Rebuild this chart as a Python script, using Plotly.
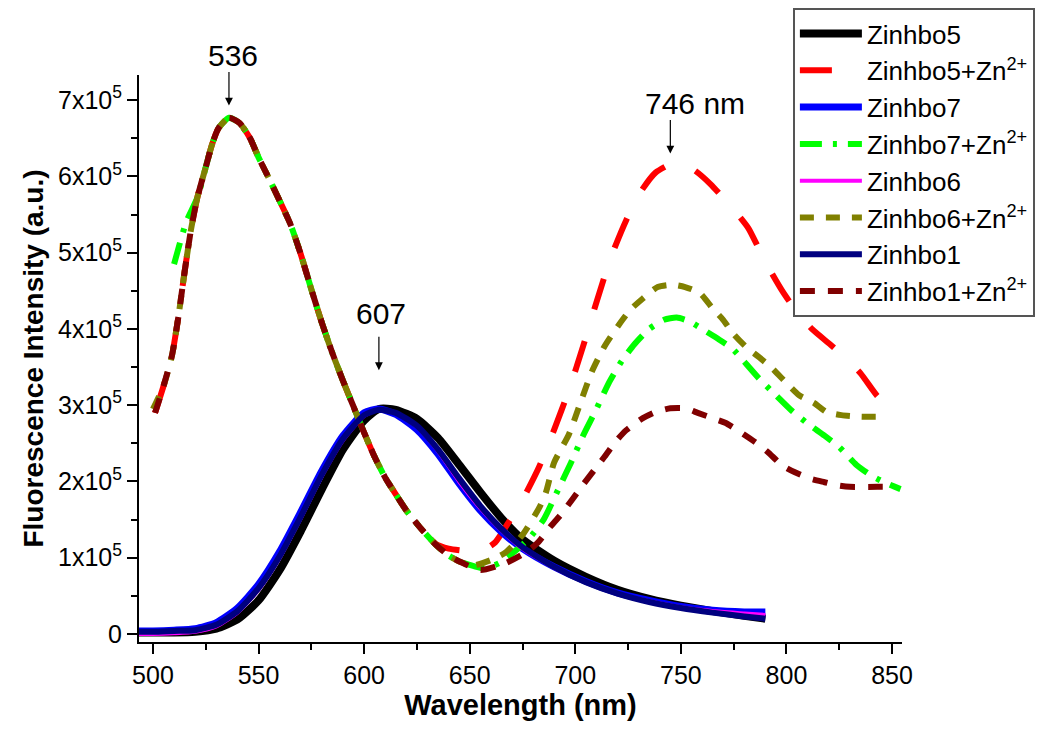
import plotly.graph_objects as go

# --- data (intensity in units of 1e5) ---
wl_solid = [493, 500, 510, 520, 530, 540, 550, 560, 570, 580, 590, 600, 607, 615, 625, 635,
            645, 655, 665, 675, 690, 705, 720, 735, 750, 765, 780, 790]
zinhbo5 = [0.02, 0.02, 0.02, 0.03, 0.07, 0.19, 0.44, 0.84, 1.35, 1.9, 2.42, 2.8, 2.95, 2.94,
           2.82, 2.57, 2.22, 1.86, 1.52, 1.24, 0.96, 0.75, 0.58, 0.46, 0.37, 0.3, 0.24, 0.2]
zinhbo7 = [0.04, 0.04, 0.05, 0.07, 0.15, 0.34, 0.65, 1.08, 1.6, 2.14, 2.6, 2.9, 2.95, 2.88,
           2.68, 2.36, 1.97, 1.62, 1.34, 1.12, 0.88, 0.69, 0.54, 0.44, 0.36, 0.31, 0.29, 0.29]
zinhbo6 = [0.0, 0.0, 0.01, 0.03, 0.1, 0.28, 0.58, 1.0, 1.52, 2.07, 2.54, 2.86, 2.94, 2.9,
           2.72, 2.4, 2.0, 1.65, 1.36, 1.12, 0.87, 0.68, 0.53, 0.43, 0.35, 0.3, 0.27, 0.25]
zinhbo1 = [0.03, 0.03, 0.04, 0.05, 0.12, 0.3, 0.6, 1.02, 1.54, 2.09, 2.56, 2.87, 2.94, 2.9,
           2.73, 2.42, 2.04, 1.68, 1.38, 1.14, 0.88, 0.68, 0.53, 0.42, 0.34, 0.28, 0.23, 0.2]

wl_red = [501, 505, 509, 512, 515, 518, 521, 525, 528, 531, 536, 541, 546, 550, 555, 560, 565,
          570, 575, 580, 585, 590, 595, 600, 605, 610, 615, 620, 627, 634, 640, 648, 655, 662,
          669, 675, 683, 690, 697, 704, 710, 717, 724, 731, 738, 746, 752, 757, 764, 771, 777,
          782, 790, 798, 805, 812, 821, 828, 835, 843, 848]
zinhbo5_zn = [2.9, 3.25, 3.65, 4.15, 4.75, 5.3, 5.72, 6.12, 6.42, 6.63, 6.77, 6.7, 6.5, 6.25,
              5.97, 5.68, 5.38, 4.98, 4.52, 4.08, 3.68, 3.32, 2.98, 2.64, 2.32, 2.05, 1.83,
              1.62, 1.38, 1.18, 1.12, 1.09, 1.08, 1.2, 1.49, 1.76, 2.2, 2.68, 3.2, 3.8, 4.35,
              4.95, 5.42, 5.8, 6.05, 6.17, 6.15, 6.07, 5.9, 5.69, 5.5, 5.32, 4.88, 4.5, 4.22,
              4.0, 3.79, 3.62, 3.42, 3.12, 3.0]

wl_green = [510, 513, 516, 521, 525, 528, 531, 536, 541, 546, 550, 555, 560, 565, 570, 575,
            580, 585, 590, 595, 600, 605, 610, 615, 620, 627, 634, 640, 646, 652, 657, 664,
            672, 678, 685, 692, 698, 704, 710, 716, 722, 728, 735, 742, 748, 754, 760, 767,
            774, 780, 787, 795, 802, 810, 818, 825, 833, 840, 847, 854]
zinhbo7_zn = [4.85, 5.15, 5.42, 5.72, 6.12, 6.42, 6.63, 6.77, 6.7, 6.5, 6.25, 5.97, 5.68,
              5.38, 4.98, 4.52, 4.08, 3.68, 3.32, 2.98, 2.64, 2.32, 2.05, 1.83, 1.62, 1.38,
              1.17, 1.03, 0.94, 0.89, 0.86, 0.93, 1.1, 1.25, 1.5, 1.9, 2.25, 2.62, 2.95, 3.3,
              3.58, 3.8, 4.0, 4.12, 4.15, 4.1, 4.0, 3.88, 3.75, 3.57, 3.35, 3.13, 2.94, 2.76,
              2.6, 2.45, 2.22, 2.08, 1.98, 1.9]

wl_olive = [500, 505, 509, 512, 515, 518, 521, 525, 528, 531, 536, 541, 546, 550, 555, 560,
            565, 570, 575, 580, 585, 590, 595, 600, 605, 610, 615, 620, 627, 634, 640, 646,
            652, 660, 667, 675, 683, 686, 690, 697, 702, 708, 714, 720, 726, 732, 739, 746,
            752, 759, 765, 770, 775, 781, 787, 793, 800, 806, 813, 819, 826, 835, 848]
zinhbo6_zn = [2.95, 3.25, 3.65, 4.15, 4.75, 5.3, 5.72, 6.12, 6.42, 6.63, 6.77, 6.7, 6.5,
              6.25, 5.97, 5.68, 5.38, 4.98, 4.52, 4.08, 3.68, 3.32, 2.98, 2.64, 2.32, 2.05,
              1.83, 1.62, 1.38, 1.17, 1.03, 0.94, 0.9, 0.97, 1.07, 1.3, 1.66, 1.85, 2.25,
              2.62, 3.0, 3.45, 3.78, 4.03, 4.25, 4.4, 4.55, 4.58, 4.55, 4.47, 4.27, 4.12,
              3.93, 3.76, 3.63, 3.49, 3.29, 3.13, 3.03, 2.91, 2.87, 2.85, 2.85]

wl_maroon = [501, 505, 509, 512, 515, 518, 521, 525, 528, 531, 536, 541, 546, 550, 555, 560,
             565, 570, 575, 580, 585, 590, 595, 600, 605, 610, 615, 620, 627, 634, 640, 646,
             655, 667, 676, 682, 688, 693, 699, 704, 709, 714, 719, 724, 732, 738, 745, 752,
             758, 765, 771, 778, 785, 791, 798, 804, 811, 818, 824, 830, 843, 848]
zinhbo1_zn = [2.9, 3.25, 3.65, 4.15, 4.75, 5.3, 5.72, 6.12, 6.42, 6.63, 6.77, 6.7, 6.5, 6.25,
              5.97, 5.68, 5.38, 4.98, 4.52, 4.08, 3.68, 3.32, 2.98, 2.64, 2.32, 2.05, 1.83,
              1.62, 1.38, 1.17, 1.03, 0.94, 0.84, 0.93, 1.06, 1.19, 1.4, 1.56, 1.78, 1.97,
              2.15, 2.33, 2.52, 2.67, 2.83, 2.91, 2.96, 2.96, 2.9, 2.83, 2.77, 2.65, 2.52,
              2.39, 2.21, 2.12, 2.04, 1.99, 1.95, 1.93, 1.93, 1.93]

y_tickvals = [0, 1, 2, 3, 4, 5, 6, 7]
y_ticktext = ["0"] + ["%dx10<sup>5</sup>" % k for k in range(1, 8)]
x_tickvals = [500, 550, 600, 650, 700, 750, 800, 850]

series = [
    ("Zinhbo5", wl_solid, zinhbo5, "#000000", 8, "solid"),
    ("Zinhbo5+Zn<sup>2+</sup>", wl_red, zinhbo5_zn, "#FF0000", 6, "32px,33px"),
    ("Zinhbo7", wl_solid, zinhbo7, "#0000FF", 7, "solid"),
    ("Zinhbo7+Zn<sup>2+</sup>", wl_green, zinhbo7_zn, "#00FF00", 6, "22px,11px,4px,11px"),
    ("Zinhbo6", wl_solid, zinhbo6, "#FF00FF", 4, "solid"),
    ("Zinhbo6+Zn<sup>2+</sup>", wl_olive, zinhbo6_zn, "#808000", 6, "14px,12px"),
    ("Zinhbo1", wl_solid, zinhbo1, "#000080", 6, "solid"),
    ("Zinhbo1+Zn<sup>2+</sup>", wl_maroon, zinhbo1_zn, "#800000", 6, "15px,13px"),
]

fig = go.Figure()
for i, (name, x, y, col, w, dash) in enumerate(series):
    fig.add_trace(go.Scatter(x=x, y=[v * 1e5 for v in y], mode="lines", name=name,
                             legendgroup=str(i),
                             line=dict(color=col, width=w, dash=dash, shape="spline", smoothing=0.6)))

font = "Arial, Liberation Sans, sans-serif"
ax_common = dict(showline=True, linecolor="black", linewidth=2, ticks="outside", ticklen=10,
                 tickwidth=2, tickcolor="black", showgrid=False, zeroline=False, mirror=False)

fig.update_xaxes(range=[493.4, 854.7], tickvals=x_tickvals,
                 tickfont=dict(family=font, size=25, color="black"),
                 title=dict(text="<b>Wavelength (nm)</b>", font=dict(family=font, size=29, color="black"), standoff=0),
                 minor=dict(dtick=25, ticks="outside", ticklen=6, tickwidth=2, tickcolor="black"),
                 **ax_common)
fig.update_yaxes(range=[-10500, 733000], tickvals=[v * 1e5 for v in y_tickvals], ticktext=y_ticktext,
                 tickfont=dict(family=font, size=25, color="black"),
                 title=dict(text="<b>Fluorescence Intensity (a.u.)</b>", font=dict(family=font, size=28, color="black"), standoff=6),
                 minor=dict(dtick=50000, tick0=0, ticks="outside", ticklen=6, tickwidth=2, tickcolor="black"),
                 **ax_common)

# peak markers
for xv, yv in [(536, 6.93e5), (607, 3.46e5), (745, 6.30e5)]:
    fig.add_annotation(x=xv, y=yv, text="", showarrow=True, ax=0, ay=-35, arrowhead=2,
                       arrowsize=1.3, arrowwidth=1.2, arrowcolor="black")
for txt, xv, yv in [("536", 538, 1.035), ("607", 608, 0.58), ("746 nm", 756.6, 0.9506)]:
    fig.add_annotation(x=xv, y=yv, yref="paper", text=txt, showarrow=False,
                       xanchor="center", yanchor="middle",
                       font=dict(family=font, size=30, color="black"))

# page body adds an 8px offset, so the figure is 8px smaller and margins shifted
fig.update_layout(
    width=1042, height=736,
    margin=dict(l=131, r=148, t=67, b=102, autoexpand=False),
    plot_bgcolor="white", paper_bgcolor="white",
    font=dict(family=font, color="black"),
    legend=dict(x=0.857, y=1.118, xanchor="left", yanchor="top", traceorder="grouped",
                tracegroupgap=0, itemwidth=62, bordercolor="#555555", borderwidth=2,
                bgcolor="white", font=dict(family=font, size=26, color="black")),
    showlegend=True,
)

fig.write_html("out.html")
